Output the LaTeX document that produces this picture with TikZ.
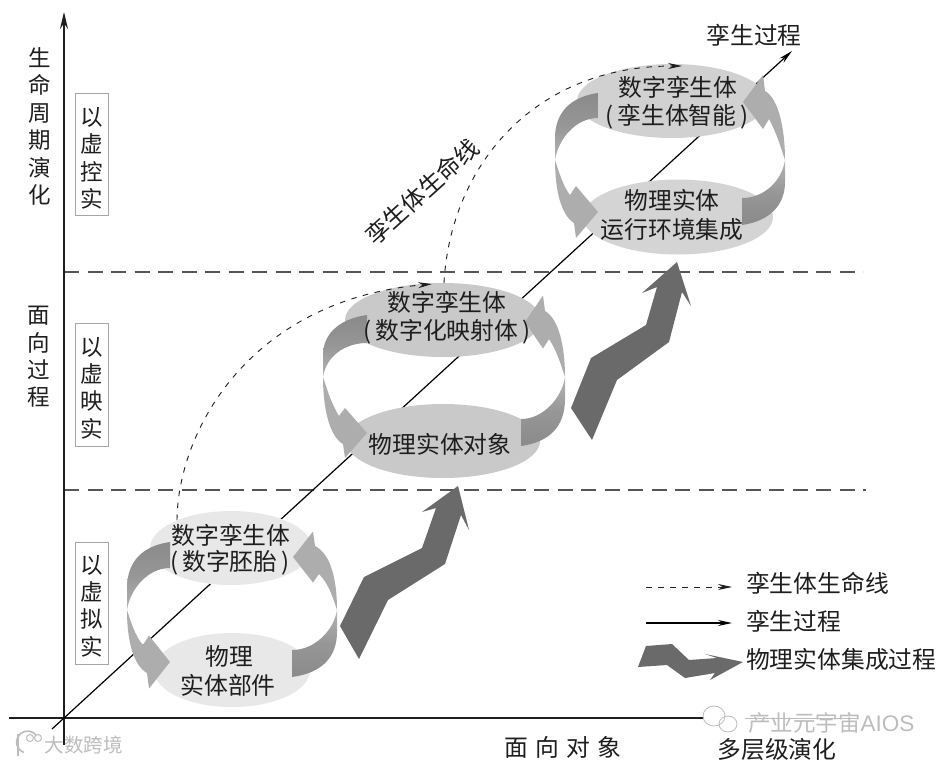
\documentclass[tikz,border=0pt]{standalone}
\usepackage{fontspec}
\setmainfont{Noto Sans CJK SC}
\setsansfont{Liberation Sans}
\usetikzlibrary{arrows.meta,shapes.geometric}
\definecolor{inkc}{HTML}{1E1E1E}
\definecolor{bandd}{HTML}{8A8A8A}
\definecolor{bandl}{HTML}{B4B4B4}
\definecolor{bandh}{HTML}{ADADAD}
\definecolor{bigc}{HTML}{6A6A6A}
\definecolor{dashc}{HTML}{555555}
\definecolor{wmc}{HTML}{BDBDBD}
\tikzset{
  lbl/.style={inner sep=0pt,outer sep=0pt,text=inkc,align=center,font=\fontsize{23.8}{29}\selectfont},
  vlbl/.style={inner sep=0pt,outer sep=0pt,text=inkc,align=center,font=\fontsize{22.5}{27.4}\selectfont},
  sidebox/.style={draw=black!35,line width=0.9pt,fill=none},
  el/.style={ellipse,inner sep=0pt,outer sep=0pt},
  axisline/.style={draw=inkc,line width=1.5pt},
  tipaxis/.style={-{Stealth[length=17pt,width=8pt]}},
  tipthin/.style={-{Stealth[length=14pt,width=6pt]}},
  sep/.style={draw=dashc,line width=1.2pt,dash pattern=on 15pt off 8.5pt},
  life/.style={draw=inkc,line width=0.9pt,dash pattern=on 5.5pt off 6.5pt},
  twin/.style={draw=black,line width=1.2pt},
  bandtail/.style={top color=bandd,bottom color=bandl,middle color=bandd!70!bandl,draw=none},
  flipband/.style={rotate=180,bandtail/.style={top color=bandl,bottom color=bandd,middle color=bandd!70!bandl,draw=none}},
  bandhead/.style={fill=bandh,draw=none},
  bigarrow/.style={fill=bigc,draw=none},
  wm/.style={inner sep=0pt,outer sep=0pt,text=wmc},
}
% #1 scope options (origin at the waist), #2 tail dx, #3 tail outer dy, #4 tail inner dy,
% #5 tip dx, #6 tip dy, #7 barb dx, #8 half barb
\newcommand\twinband[8]{%
  \begin{scope}[#1]
    \path[bandtail] (#2,#3) .. controls (15,{#3+4}) and (0,{#3+20}) .. (0,-22) -- (0,0)
      .. controls (3,-20) and ({#2-23},#4) .. (#2,#4) -- cycle;
    \path[bandhead] (0,0) .. controls (4,12) and (8,26) .. ({#7-6},{#6-17})
      -- (#7,{#6-#8}) -- (#5,#6) -- (#7,{#6+#8}) -- ({#7-2},{#6+11})
      .. controls (6,{#6+3}) and (0,30) .. (0,0) -- cycle;
  \end{scope}}
\begin{document}
\begin{tikzpicture}[x=1pt,y=-1pt]
\useasboundingbox (0,0) rectangle (943,764);
\fill[white] (0,0) rectangle (943,764);
% anchor coordinates
\coordinate (xs) at (9,718); \coordinate (xe) at (704,718);
\coordinate (xw) at (745,718); \coordinate (xf) at (858,718);
\coordinate (ys) at (64,745); \coordinate (ye) at (64,12);
\coordinate (ds) at (52,729); \coordinate (de) at (792,51);
\coordinate (s1a) at (64,272); \coordinate (s1b) at (863,272);
\coordinate (s2a) at (64,490); \coordinate (s2b) at (866,490);
% axes, twin line, separators
\draw[sep] (s1a) -- (s1b);
\draw[sep] (s2a) -- (s2b);
\draw[wmc,line width=0.8pt] (xw) -- (xf);
\draw[axisline] (xs) -- (xe);
\draw[axisline,tipaxis] (ys) -- (ye);
\draw[twin,tipthin] (ds) -- (de);
% ellipses
\node[el,fill=black!9,minimum width=162pt,minimum height=74pt] (t1) at (231,548) {};
\node[el,fill=black!9,minimum width=156pt,minimum height=74pt] (b1) at (232,670) {};
\node[el,fill=black!21,minimum width=196pt,minimum height=74pt] (t2) at (443,320) {};
\node[el,fill=black!21,minimum width=194pt,minimum height=74pt] (b2) at (443,441) {};
\node[el,fill=black!18,minimum width=190pt,minimum height=74pt] (t3) at (672,101) {};
\node[el,fill=black!17,minimum width=190pt,minimum height=75pt] (b3) at (678,217) {};
% circular bands
\twinband{shift={(127,610)}}{43}{-68}{-42}{43}{52}{22}{26.5}
\twinband{shift={(337,610)},flipband}{45}{-67}{-40}{44}{53}{24}{25.5}
\twinband{shift={(323,377)}}{44}{-62}{-34}{44}{56}{22}{25}
\twinband{shift={(565,377)},flipband}{44}{-69}{-42}{40}{55}{22}{26.5}
\twinband{shift={(555,160)}}{43}{-67}{-42}{43}{52}{21}{26}
\twinband{shift={(785,160)},flipband}{43}{-65}{-38}{42}{58}{22}{27}
% integration arrows
\path[bigarrow] (340,626) -- (364,577) -- (422,548) -- (436,508) -- (422,512) -- (458,486) -- (469,530) -- (461,515) -- (445,564) -- (388,600) -- (359,659) -- cycle;
\path[bigarrow] (571,408) -- (591,358) -- (646,325) -- (657,287) -- (642,293) -- (677,262) -- (691,306) -- (682,292) -- (669,342) -- (617,380) -- (592,440) -- cycle;
% lifeline curves
\coordinate (la) at (177,520); \coordinate (lb) at (432,284);
\coordinate (lc) at (444,283); \coordinate (ld) at (682,66);
\draw[life,tipthin] (la) .. controls (178,430) and (250,300) .. (lb);
\draw[life,tipthin] (lc) .. controls (450,170) and (530,66) .. (ld);
% ellipse text
\node[lbl] (t1a) at (231,535) {数字孪生体};
\node[lbl] (t1b) at (230,563) {(\,数字胚胎\,)};
\node[lbl] (b1a) at (229,656) {物理};
\node[lbl] (b1b) at (228,685) {实体部件};
\node[lbl] (t2a) at (447,302) {数字孪生体};
\node[lbl] (t2b) at (447,332) {(\,数字化映射体\,)};
\node[lbl] (b2a) at (440,444) {物理实体对象};
\node[lbl] (t3a) at (678,87) {数字孪生体};
\node[lbl] (t3b) at (677,117) {(\,孪生体智能\,)};
\node[lbl] (b3a) at (672,200) {物理实体};
\node[lbl] (b3b) at (672,229) {运行环境集成};
\node[lbl] (top) at (754,35) {孪生过程};
\node[lbl,rotate=42] (lifelabel) at (422,192) {孪生体生命线};
% left column
\node[vlbl] (c1) at (40,126.5) {生\\命\\周\\期\\演\\化};
\node[vlbl] (c2) at (39,357) {面\\向\\过\\程};
\draw[sidebox] (75,93) rectangle (108,215);
\draw[sidebox] (75,323) rectangle (108,446);
\draw[sidebox] (75,542) rectangle (108,664);
\node[vlbl] (k1) at (92,158.5) {以\\虚\\控\\实};
\node[vlbl] (k2) at (92,388) {以\\虚\\映\\实};
\node[vlbl] (k3) at (92,606) {以\\虚\\拟\\实};
% bottom labels
\node[lbl] (xl1) at (563,747) {面\hspace{7pt}向\hspace{7pt}对\hspace{7pt}象};
\node[lbl] (xl2) at (777,749) {多层级演化};
% legend
\coordinate (g1a) at (646,587); \coordinate (g1b) at (732,587);
\coordinate (g2a) at (646,623); \coordinate (g2b) at (732,623);
\draw[life,tipthin] (g1a) -- (g1b);
\draw[twin,tipthin] (g2a) -- (g2b);
\path[bigarrow] (638,667) -- (646,646) -- (672,644) -- (689,660) -- (717,658) -- (705,654) -- (743,662) -- (710,680) -- (715,673) -- (685,678) -- (667,665) -- cycle;
\node[lbl,anchor=west] (g1) at (746,583) {孪生体生命线};
\node[lbl,anchor=west] (g2) at (746,621) {孪生过程};
\node[lbl,anchor=west] (g3) at (746,659) {物理实体集成过程};
% watermarks
\node[wm,anchor=west,font=\fontsize{22.5}{24}\selectfont] (w1) at (748,723) {产业元宇宙{\sffamily AIOS}};
\draw[wmc,line width=0.8pt] (714,716) ellipse (11pt and 10pt);
\draw[wmc,line width=0.8pt] (728,724) ellipse (9pt and 8pt);
\node[wm,font=\fontsize{19.5}{22}\selectfont] (w2) at (84,745) {大数跨境};
\draw[wmc,line width=1.6pt] (18,734) -- (18,756);
\draw[wmc,line width=1.6pt] (36,735) arc (40:250:11pt);
\draw[wmc,line width=1pt] (30,738) circle (3.5pt);
\draw[wmc,line width=1pt] (38,738) circle (3.5pt);
\end{tikzpicture}
\end{document}
